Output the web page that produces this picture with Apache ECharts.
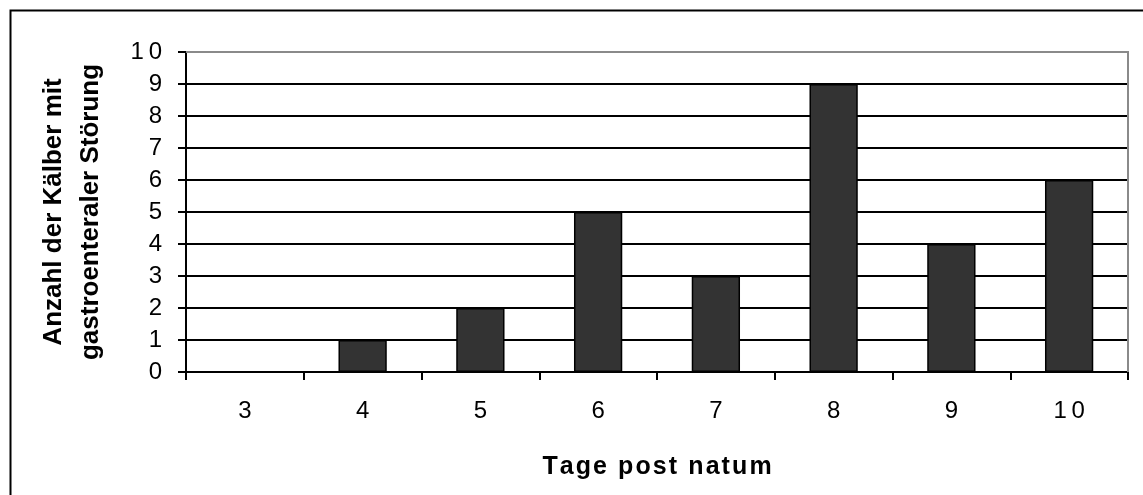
<!DOCTYPE html>
<html>
<head>
<meta charset="utf-8">
<script src="https://cdn.jsdelivr.net/npm/echarts@6/dist/echarts.min.js"></script>
<style>
  html, body { margin: 0; padding: 0; background: #fff; }
  #chart { width: 1143px; height: 495px; }
</style>
</head>
<body>
<div id="chart"></div>
<script>
// Tage post natum (days after birth)
const days = ['3', '4', '5', '6', '7', '8', '9', '10'];
// Number of calves with a gastroenteric disorder on each day
const calves = [0, 1, 2, 5, 3, 9, 4, 6];
// Value axis ticks
const yTicks = [0, 1, 2, 3, 4, 5, 6, 7, 8, 9, 10];

const FONT = '"Liberation Sans", Arial, sans-serif';
const THIN = '\u2009';
const HAIR = '\u200A';
const spaced = (s, gap) => String(s).split('').join(gap);

const PLOT = { left: 186, top: 52, width: 942, height: 320 };

const chart = echarts.init(document.getElementById('chart'), null, { renderer: 'canvas' });

chart.setOption({
  animation: false,
  backgroundColor: '#ffffff',
  graphic: [
    {
      // frame around the whole chart
      type: 'rect',
      left: 8, top: 8,
      shape: { width: 1200, height: 600 },
      style: { fill: 'none', stroke: '#000', lineWidth: 2 },
      z: 0
    },
    {
      // top and right edge of the plot area
      type: 'polyline',
      shape: {
        points: [
          [PLOT.left, PLOT.top],
          [PLOT.left + PLOT.width, PLOT.top],
          [PLOT.left + PLOT.width, PLOT.top + PLOT.height]
        ]
      },
      style: { fill: 'none', stroke: '#8a8a8a', lineWidth: 2 },
      z: 20
    }
  ],
  grid: {
    left: PLOT.left, top: PLOT.top, width: PLOT.width, height: PLOT.height,
    show: false
  },
  xAxis: {
    type: 'category',
    data: days,
    name: spaced('Tage post natum', HAIR),
    nameLocation: 'middle',
    nameGap: 83,
    nameTextStyle: { fontFamily: FONT, fontSize: 25, fontWeight: 'bold', color: '#000' },
    axisLine: { show: true, lineStyle: { color: '#000', width: 2 } },
    axisTick: { show: true, alignWithLabel: false, length: 8, lineStyle: { color: '#000', width: 2 } },
    axisLabel: {
      fontFamily: FONT, fontSize: 24, color: '#000', margin: 27,
      formatter: v => spaced(v, THIN)
    },
    splitLine: { show: false }
  },
  yAxis: {
    type: 'value',
    min: yTicks[0],
    max: yTicks[yTicks.length - 1],
    interval: 1,
    name: 'Anzahl der Kälber mit\ngastroenteraler Störung',
    nameLocation: 'middle',
    nameGap: 77,
    nameRotate: 90,
    nameTextStyle: { fontFamily: FONT, fontSize: 26, fontWeight: 'bold', color: '#000', lineHeight: 37 },
    axisLine: { show: true, lineStyle: { color: '#000', width: 2 } },
    axisTick: { show: true, length: 8, lineStyle: { color: '#000', width: 2 } },
    axisLabel: {
      fontFamily: FONT, fontSize: 24, color: '#000', margin: 24,
      formatter: v => spaced(v, THIN)
    },
    splitLine: { show: true, lineStyle: { color: '#000', width: 2 } }
  },
  series: [{
    type: 'bar',
    data: calves,
    barWidth: '41%',
    itemStyle: { color: '#333333', borderColor: '#000', borderWidth: 1.5 },
    z: 3
  }]
});
</script>
</body>
</html>
